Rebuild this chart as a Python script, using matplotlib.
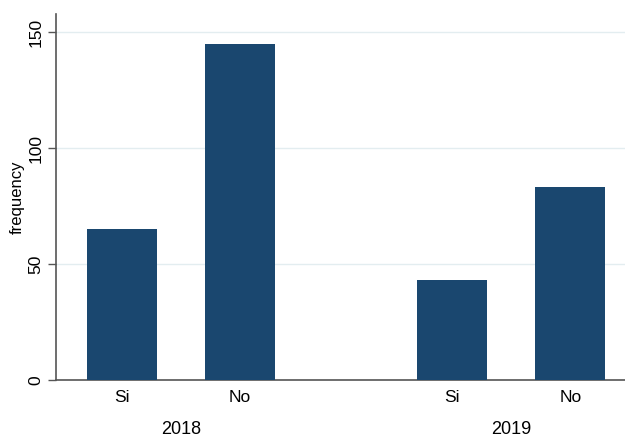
import matplotlib.pyplot as plt
import matplotlib.transforms as mtransforms
import numpy as np

plt.rcParams['font.family'] = ['Liberation Sans', 'DejaVu Sans']

# data
years = ['2018', '2019']
answers = ['Si', 'No']
freq_2018 = [65, 145]
freq_2019 = [43, 83]

bar_color = '#1a476f'
pos = np.array([0.0, 1.0, 2.8, 3.8])
vals = freq_2018 + freq_2019
labels = answers + answers

fig = plt.figure(figsize=(6.25, 4.37), dpi=100)
ax = fig.add_axes([56 / 625, 1 - 380 / 437, 1 - 56 / 625, (380 - 14) / 437])

ax.bar(pos, vals, width=0.593, color=bar_color, zorder=3)

ax.set_xlim(-0.559, 4.263)
ax.set_ylim(0, 157.8)
ax.set_yticks([0, 50, 100, 150])
ax.set_yticklabels(['0', '50', '100', '150'], rotation=90, va='center', fontsize=12.5)
ax.set_xticks(pos)
ax.set_xticklabels(labels, fontsize=12.5)
ax.tick_params(axis='x', length=0, pad=7)
ax.tick_params(axis='y', length=6, width=1, color='#555555', pad=3)
ax.grid(axis='y', color='#e3edf0', linewidth=1, zorder=0)

for s in ['top', 'right']:
    ax.spines[s].set_visible(False)
for s in ['left', 'bottom']:
    ax.spines[s].set_color('#555555')
    ax.spines[s].set_linewidth(1.2)

ax.set_ylabel('frequency', fontsize=12, labelpad=3)

trans = mtransforms.blended_transform_factory(ax.transData, ax.transAxes)
for i, yr in enumerate(years):
    xc = (pos[2 * i] + pos[2 * i + 1]) / 2
    ax.text(xc, -0.135, yr, transform=trans, ha='center', va='center', fontsize=13)

fig.savefig('out.png', dpi=100)
